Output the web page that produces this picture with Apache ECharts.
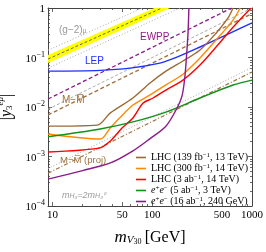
<!DOCTYPE html>
<html><head><meta charset="utf-8">
<script src="https://cdn.jsdelivr.net/npm/echarts@6/dist/echarts.min.js"></script>
<style>html,body{margin:0;padding:0;background:#fff}#c{width:266px;height:252px}</style>
</head><body><div id="c"></div>
<script>
// ---- axes ----
const xMin = 9, xMax = 1000;
const yMin = 1e-4, yMax = 1;
const xTickLabels = [10, 50, 100, 500, 1000];
const xMinorTicks = [20, 30, 40, 60, 70, 80, 90, 200, 300, 400, 600, 700, 800, 900];
const yTickExps = [-4, -3, -2, -1, 0];
const yMinorMantissa = [2, 3, 4, 5, 6, 7, 8, 9];

// ---- (g-2)_mu band ----
const gUpperM = [9, 105], gUpperY = [0.112, 1.0];
const gLowerM = [9, 150], gLowerY = [0.077, 1.0];
const gCenterM = [9, 125], gCenterY = [0.093, 1.0];
const gDot1M = [9, 80], gDot1Y = [0.14, 1.0];
const gDot2M = [9, 190], gDot2Y = [0.061, 1.0];

// ---- LEP ----
const lepM = [9, 30, 60, 119, 169, 301, 603, 1000];
const lepY = [0.053, 0.055, 0.061, 0.077, 0.098, 0.163, 0.31, 0.5];

// ---- EWPP ----
const ewppM = [9, 625], ewppY = [0.0145, 1.0];

// ---- muonium-antimuonium ----
const mmM = [9, 1000], mmY = [0.0069, 0.77];
const mmGrayM = [9, 1000], mmGrayY = [0.009, 1.0];
const mmProjM = [9, 1000], mmProjY = [0.00046, 0.051];
const mmProjGrayM = [9, 1000], mmProjGrayY = [0.00057, 0.063];

// ---- collider reaches ----
const lhc139M = [9, 28, 38, 64, 95, 137, 203, 301, 436, 575, 645];
const lhc139Y = [0.0041, 0.0043, 0.0076, 0.0152, 0.0305, 0.053, 0.085, 0.142, 0.31, 0.63, 1.0];
const lhc300M = [9, 30, 38, 47, 64, 95, 137, 203, 301, 436, 645, 760];
const lhc300Y = [0.00285, 0.00226, 0.0038, 0.006, 0.011, 0.0175, 0.028, 0.046, 0.098, 0.226, 0.57, 1.0];
const lhc3abM = [9, 30, 38, 50, 64, 81, 102, 137, 203, 301, 436, 645, 980];
const lhc3abY = [0.00123, 0.00149, 0.00206, 0.0038, 0.006, 0.012, 0.0152, 0.022, 0.035, 0.0705, 0.163, 0.41, 1.0];
const ee3M = [9, 30, 64, 137, 301, 645, 1000];
const ee3Y = [0.0025, 0.0036, 0.005, 0.0079, 0.0152, 0.0278, 0.035];
const ee240M = [9, 20, 38, 64, 95, 137, 173, 199, 212, 220, 228, 233];
const ee240Y = [0.00035, 0.00052, 0.00074, 0.0013, 0.0023, 0.0041, 0.0087, 0.017, 0.04, 0.1, 0.3, 1.0];

const legendNames = ['LHC139', 'LHC300', 'LHC3ab', 'EE3', 'EE240'];
const legendLabels = [
  'LHC (139 fb{sup|−1}, 13 TeV)',
  'LHC (300 fb{sup|−1}, 14 TeV)',
  'LHC (3 ab{sup|−1}, 14 TeV)',
  '{it|e}{sup|+}{it|e}{sup|−} (5 ab{sup|−1}, 3 TeV)',
  '{it|e}{sup|+}{it|e}{sup|−} (16 ab{sup|−1}, 240 GeV)'
];

const L = Math.log10;
const pairs = (ms, ys) => ms.map((m, i) => [m, ys[i]]);
const SERIF = 'Liberation Serif';
const SANS = 'Liberation Sans';
const FRAME = '#444';

const yMinorVals = [];
yTickExps.slice(0, -1).forEach(e => yMinorMantissa.forEach(m => yMinorVals.push(e + L(m))));

function decoX(pos, major, withLabel) {
  return {
    type: 'value', min: L(xMin), max: L(xMax), position: pos,
    axisLine: {show: major, onZero: false, lineStyle: {color: FRAME, width: 1}},
    axisTick: {show: true, inside: true, length: major ? 4 : 2,
      customValues: major ? xTickLabels.map(L) : xMinorTicks.map(L),
      lineStyle: {color: FRAME, width: 0.8}},
    axisLabel: withLabel ? {show: true, customValues: xTickLabels.map(L),
      formatter: v => String(Math.round(Math.pow(10, v))),
      fontFamily: SERIF, fontSize: 11, color: '#000', margin: 4} : {show: false},
    splitLine: {show: false}
  };
}
function decoY(pos, major, withLabel) {
  return {
    type: 'value', min: -4, max: 0, position: pos,
    axisLine: {show: major, onZero: false, lineStyle: {color: FRAME, width: 1}},
    axisTick: {show: true, inside: true, length: major ? 4 : 2,
      customValues: major ? yTickExps : yMinorVals,
      lineStyle: {color: FRAME, width: 0.8}},
    axisLabel: withLabel ? {show: true, customValues: yTickExps,
      formatter: v => { const e = Math.round(v); return e === 0 ? '{b|1}' : '{b|10}{sup|−' + (-e) + '}'; },
      margin: 3,
      rich: {
        b: {fontFamily: SERIF, fontSize: 11, color: '#000', lineHeight: 14, verticalAlign: 'bottom'},
        sup: {fontFamily: SERIF, fontSize: 8, color: '#000', lineHeight: 8, verticalAlign: 'top'}
      }} : {show: false},
    splitLine: {show: false}
  };
}

const xAxes = [
  {type: 'log', logBase: 10, min: xMin, max: xMax, show: false},
  Object.assign(decoX('bottom', true, true), {
    name: '{m|m}{v|V}{s|3}{z|0} {g|[GeV]}', nameLocation: 'middle', nameGap: 22,
    nameTextStyle: {rich: {
      m: {fontFamily: SERIF, fontStyle: 'italic', fontSize: 17, color: '#000', verticalAlign: 'bottom', lineHeight: 18},
      v: {fontFamily: SERIF, fontStyle: 'italic', fontSize: 11, color: '#000', verticalAlign: 'bottom', lineHeight: 14},
      s: {fontFamily: SERIF, fontSize: 8, color: '#000', verticalAlign: 'bottom', lineHeight: 10},
      z: {fontFamily: SERIF, fontSize: 8, color: '#000', verticalAlign: 'bottom', lineHeight: 18},
      g: {fontFamily: SERIF, fontSize: 16, color: '#000', verticalAlign: 'bottom', lineHeight: 18}
    }}
  }),
  decoX('bottom', false, false),
  decoX('top', true, false),
  decoX('top', false, false)
];
const yAxes = [
  {type: 'log', logBase: 10, min: yMin, max: yMax, show: false},
  Object.assign(decoY('left', true, true), {
    name: '{p||}{y|y}{s|3}{e|eμ}{p||}', nameLocation: 'middle', nameGap: 30, nameRotate: 90,
    nameTextStyle: {rich: {
      p: {fontFamily: SERIF, fontSize: 16, color: '#000', verticalAlign: 'bottom', lineHeight: 18},
      y: {fontFamily: SERIF, fontStyle: 'italic', fontSize: 16, color: '#000', verticalAlign: 'bottom', lineHeight: 18},
      s: {fontFamily: SERIF, fontSize: 9, color: '#000', verticalAlign: 'bottom', lineHeight: 12},
      e: {fontFamily: SERIF, fontStyle: 'italic', fontSize: 9, color: '#000', verticalAlign: 'top', lineHeight: 9}
    }}
  }),
  decoY('left', false, false),
  decoY('right', true, false),
  decoY('right', false, false)
];

function line(name, ms, ys, color, type, width, z, smooth) {
  return {
    name, type: 'line', xAxisIndex: 0, yAxisIndex: 0, data: pairs(ms, ys),
    symbol: 'none', smooth: smooth || false, color, z: z || 2, clip: true,
    lineStyle: {color, width: width || 1.4, type: type || 'solid'},
    emphasis: {disabled: true}, silent: true
  };
}

const bandPts = pairs(gUpperM, gUpperY).concat(pairs(gLowerM, gLowerY).reverse());

const series = [
  {type: 'custom', xAxisIndex: 0, yAxisIndex: 0, clip: true, z: 1, silent: true,
    data: [[gUpperM[0], gUpperY[0]]],
    renderItem: (params, api) => ({
      type: 'polygon',
      shape: {points: bandPts.map(p => api.coord(p))},
      style: {fill: '#ffff00', stroke: null}
    })},
  line('gc', gCenterM, gCenterY, '#666', [3, 2], 1, 2),
  line('gd1', gDot1M, gDot1Y, '#aaa', [1, 2], 1, 2),
  line('gd2', gDot2M, gDot2Y, '#aaa', [1, 2], 1, 2),
  line('mmg', mmGrayM, mmGrayY, '#aaa', [3, 2], 1, 2),
  line('mmpg', mmProjGrayM, mmProjGrayY, '#aaa', [1, 2], 1, 2),
  line('mm', mmM, mmY, '#a0703c', [4, 2.5], 1.3, 3),
  line('mmp', mmProjM, mmProjY, '#a0703c', [4, 2, 1, 2], 1.2, 3),
  line('ewpp', ewppM, ewppY, '#8b1a8b', [4, 2.5], 1.3, 3),
  line('lep', lepM, lepY, '#1f2fff', 'solid', 1.4, 4, 0.3),
  line('LHC139', lhc139M, lhc139Y, '#9c6a35', 'solid', 1.4, 5, 0.3),
  line('LHC300', lhc300M, lhc300Y, '#ff8a00', 'solid', 1.4, 5, 0.3),
  line('LHC3ab', lhc3abM, lhc3abY, '#ff0000', 'solid', 1.4, 5, 0.3),
  line('EE3', ee3M, ee3Y, '#14901a', 'solid', 1.4, 5, 0.3),
  line('EE240', ee240M, ee240Y, '#8b1a8b', 'solid', 1.4, 5, 0.3)
];

const txt = (left, top, text, fill, size, rich, extra) => ({
  type: 'text', left, top, silent: true, z: 20,
  style: Object.assign({text, fill, font: size + 'px ' + SANS, rich: rich || {}}, extra || {})
});

const option = {
  animation: false,
  backgroundColor: '#fff',
  grid: {left: 48, right: 14, top: 8, bottom: 46, containLabel: false, outerBoundsMode: 'none'},
  xAxis: xAxes,
  yAxis: yAxes,
  legend: {
    orient: 'vertical', left: 131, top: 147, itemWidth: 10, itemHeight: 1.6, itemGap: 0,
    icon: 'rect', selectedMode: false, data: legendNames,
    formatter: n => legendLabels[legendNames.indexOf(n)],
    textStyle: {fontFamily: SERIF, fontSize: 10, color: '#000', lineHeight: 11,
      rich: {
        sup: {fontFamily: SERIF, fontSize: 7, color: '#000', verticalAlign: 'top', lineHeight: 7},
        it: {fontFamily: SERIF, fontStyle: 'italic', fontSize: 10, color: '#000', lineHeight: 11}
      }}
  },
  series,
  graphic: [
    txt(59, 25, '(g−2){s|μ}', '#9a9a9a', 10, {s: {fontSize: 7, fill: '#9a9a9a', fontFamily: SANS, verticalAlign: 'bottom', lineHeight: 9}}),
    txt(85, 56, 'LEP', '#1f2fff', 10),
    txt(140, 32, 'EWPP', '#8b1a8b', 10),
    txt(62, 95, 'M−M\u0305', '#a0703c', 10),
    txt(60, 155, 'M−M\u0305 (proj)', '#a0703c', 9.5),
    txt(62, 191, '{i|m}{s|H₃}{i|=2m}{s|H₃⁰}', '#9a9a9a', 9, {
      i: {fontSize: 9, fill: '#9a9a9a', fontFamily: SANS, fontStyle: 'italic', verticalAlign: 'bottom', lineHeight: 11},
      s: {fontSize: 7, fill: '#9a9a9a', fontFamily: SANS, fontStyle: 'italic', verticalAlign: 'bottom', lineHeight: 9}
    })
  ]
};

const chart = echarts.init(document.getElementById('c'));
chart.setOption(option);
</script>
</body></html>
